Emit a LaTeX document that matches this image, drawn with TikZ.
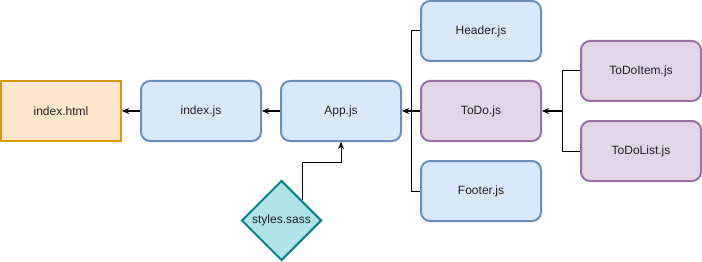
\documentclass[tikz,border=0pt]{standalone}
\usepackage{fontspec}
\setmainfont{Liberation Sans}
\usetikzlibrary{arrows.meta,shapes.geometric,calc}
\definecolor{bluefill}{HTML}{DAE8FC}
\definecolor{bluedraw}{HTML}{6C8EBF}
\definecolor{purplefill}{HTML}{E1D5E7}
\definecolor{purpledraw}{HTML}{9673A6}
\definecolor{orangefill}{HTML}{FFE6CC}
\definecolor{orangedraw}{HTML}{D79B00}
\definecolor{tealfill}{HTML}{B0E3E6}
\definecolor{tealdraw}{HTML}{0E8088}
\definecolor{txt}{HTML}{222222}
\tikzset{
  module/.style={rectangle, rounded corners=9pt, minimum width=120pt, minimum height=60pt,
    line width=2pt, font=\fontsize{12}{14}\selectfont, text=txt, inner sep=0pt},
  bluebox/.style={module, fill=bluefill, draw=bluedraw},
  purplebox/.style={module, fill=purplefill, draw=purpledraw},
  pagebox/.style={module, rounded corners=0pt, fill=orangefill, draw=orangedraw},
  stylebox/.style={diamond, aspect=1, minimum width=80pt, minimum height=80pt, inner sep=0pt,
    line width=2pt, fill=tealfill, draw=tealdraw, font=\fontsize{12}{14}\selectfont, text=txt},
  link/.style={line width=1pt, black},
  arr/.style={link, -{Stealth[length=7pt, width=6pt, inset=2pt]}}
}
\begin{document}
\begin{tikzpicture}[x=1pt, y=-1pt]
  \useasboundingbox (0,0) rectangle (702,262);

  \node[pagebox]   (html)     at (61,111)  {index.html};
  \node[bluebox]   (index)    at (201,111) {index.js};
  \node[bluebox]   (app)      at (341,111) {App.js};
  \node[bluebox]   (header)   at (481,31)  {Header.js};
  \node[purplebox] (todo)     at (481,111) {ToDo.js};
  \node[bluebox]   (footer)   at (481,191) {Footer.js};
  \node[purplebox] (todoitem) at (641,71)  {ToDoItem.js};
  \node[purplebox] (todolist) at (641,151) {ToDoList.js};
  \node[stylebox]  (sass)     at (281.5,220.5) {styles.sass};

  % junction points of the merged connectors
  \coordinate (hub)  at ($(app.east)!0.5!(todo.west)$);
  \coordinate (hub2) at ($(todo.east)+(20,0)$);
  \coordinate (bend) at ($(app.south)+(0,20)$);

  \draw[arr] (index) -- (html);
  \draw[arr] (app) -- (index);

  \draw[link] (header.west) -| (hub);
  \draw[link] (footer.west) -| (hub);
  \draw[arr] (todo.west) -- (app.east);

  \draw[link] (todoitem.west) -| (hub2);
  \draw[link] (todolist.west) -| (hub2);
  \draw[arr] (hub2) -- (todo.east);

  \draw[arr] (sass.north east) |- (bend) -- (app.south);
\end{tikzpicture}
\end{document}
